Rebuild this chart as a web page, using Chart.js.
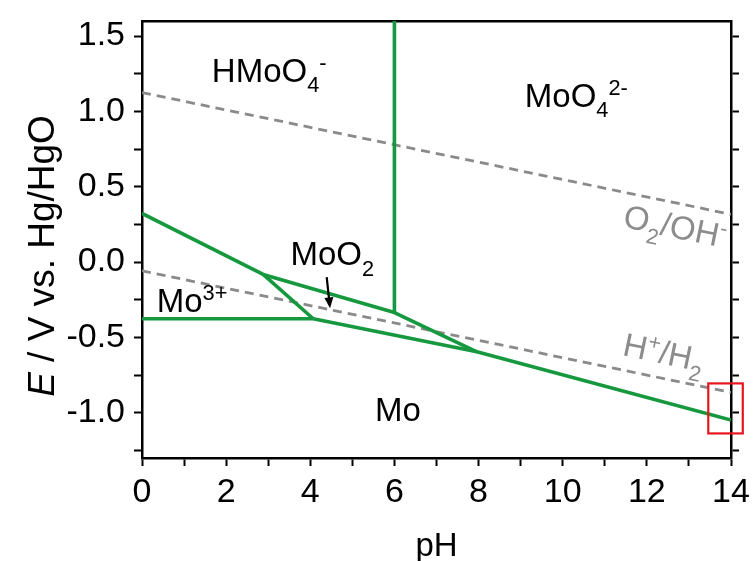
<!DOCTYPE html>
<html><head><meta charset="utf-8">
<script src="https://cdn.jsdelivr.net/npm/chart.js@4/dist/chart.umd.min.js"></script>
<style>html,body{margin:0;padding:0;background:#fff}canvas{display:block}</style>
</head><body>
<canvas id="c" width="755" height="561"></canvas>
<script>
// ---- axis ticks ----
const xTicks = [0,1,2,3,4,5,6,7,8,9,10,11,12,13,14];
const xTickValues = [0,2,4,6,8,10,12,14];
const xTickLabels = ['0','2','4','6','8','10','12','14'];
const yTicks = [-1.25,-1.0,-0.75,-0.5,-0.25,0,0.25,0.5,0.75,1.0,1.25,1.5];
const yTickValues = [-1.0,-0.5,0,0.5,1.0,1.5];
const yTickLabels = ['-1.0','-0.5','0.0','0.5','1.0','1.5'];

// ---- boundaries (pH, E) ----
const pH6Line_pH = [6.0, 6.0];
const pH6Line_E  = [-0.335, 1.6];
const upper_pH = [0, 2.88, 6.0, 7.96, 14];
const upper_E  = [0.323, -0.082, -0.335, -0.595, -1.048];
const mo3MoO2_pH = [2.88, 4.07];
const mo3MoO2_E  = [-0.082, -0.376];
const mo3Mo_pH = [0, 4.07];
const mo3Mo_E  = [-0.376, -0.376];
const moMoO2_pH = [4.07, 7.96];
const moMoO2_E  = [-0.376, -0.595];
const o2_pH = [0, 14];
const o2_E  = [1.125, 0.317];
const h2_pH = [0, 14];
const h2_E  = [-0.058, -0.865];

// ---- region labels ----
const labelNames = ['HMoO4-','MoO4 2-','MoO2','Mo3+','Mo','O2/OH-','H+/H2'];
const labelPH = [1.66, 9.10, 3.53, 0.35, 5.54, 11.41, 11.40];
const labelE  = [1.196, 1.03, -0.02, -0.33, -1.055, 0.234, -0.617];
const labelParts = [
  [{t:'HMoO'},{t:'4',s:'sub'},{t:'-',s:'sup'}],
  [{t:'MoO'},{t:'4',s:'sub'},{t:'2-',s:'sup'}],
  [{t:'MoO'},{t:'2',s:'sub'}],
  [{t:'Mo'},{t:'3+',s:'sup'}],
  [{t:'Mo'}],
  [{t:'O'},{t:'2',s:'sub'},{t:'/OH'},{t:'-',s:'sup'}],
  [{t:'H'},{t:'+',s:'sup'},{t:'/H'},{t:'2',s:'sub'}]
];
const arrow_pH = [4.39, 4.47];
const arrow_E  = [-0.10, -0.307];
const box_pH = [13.46, 14.28];
const box_E  = [-0.805, -1.137];

const FAM = '"Liberation Sans", Arial, Helvetica, sans-serif';
const GREEN = '#16983f';
const GRAY = '#8a8a8a';

function pts(xs, ys){ return xs.map((x,i)=>({x:x, y:ys[i]})); }
function green(xs, ys){ return {data:pts(xs,ys), showLine:true, borderColor:GREEN, borderWidth:3.6, pointRadius:0, fill:false, tension:0, borderJoinStyle:'round'}; }
function dashed(xs, ys){ return {data:pts(xs,ys), showLine:true, borderColor:GRAY, borderWidth:2.8, borderDash:[9,6], pointRadius:0, fill:false, tension:0}; }

function rich(ctx, x, y, parts, size, color, angle){
  ctx.save(); ctx.translate(x,y); ctx.rotate(angle||0);
  ctx.fillStyle = color; ctx.textBaseline='alphabetic'; ctx.textAlign='left';
  let cx = 0;
  for (const p of parts){
    let fs = size, dy = 0;
    if (p.s==='sub'){ fs = size*0.66; dy = size*0.32; }
    else if (p.s==='sup'){ fs = size*0.66; dy = -size*0.36; }
    ctx.font = (p.i?'italic ':'') + fs + 'px ' + FAM;
    ctx.fillText(p.t, cx, dy);
    cx += ctx.measureText(p.t).width;
  }
  ctx.restore();
}

const decor = {
  id:'decor',
  afterDatasetsDraw(chart){
    const ctx = chart.ctx, xs = chart.scales.x, ys = chart.scales.y;
    for (let i=0;i<labelNames.length;i++){
      const isGray = i>=5;
      const ang = isGray ? 0.205 : 0;
      rich(ctx, xs.getPixelForValue(labelPH[i]), ys.getPixelForValue(labelE[i]), labelParts[i], 33, isGray ? '#8c8c8c' : '#000', ang);
    }
    const ax1 = xs.getPixelForValue(arrow_pH[0]), ay1 = ys.getPixelForValue(arrow_E[0]);
    const ax2 = xs.getPixelForValue(arrow_pH[1]), ay2 = ys.getPixelForValue(arrow_E[1]);
    const a = Math.atan2(ay2-ay1, ax2-ax1);
    ctx.save();
    ctx.strokeStyle='#000'; ctx.fillStyle='#000'; ctx.lineWidth=2.2;
    ctx.beginPath(); ctx.moveTo(ax1,ay1); ctx.lineTo(ax2-7*Math.cos(a), ay2-7*Math.sin(a)); ctx.stroke();
    ctx.beginPath();
    ctx.moveTo(ax2,ay2);
    ctx.lineTo(ax2-11*Math.cos(a)+4.5*Math.sin(a), ay2-11*Math.sin(a)-4.5*Math.cos(a));
    ctx.lineTo(ax2-11*Math.cos(a)-4.5*Math.sin(a), ay2-11*Math.sin(a)+4.5*Math.cos(a));
    ctx.closePath(); ctx.fill();
    ctx.restore();
    const bx1 = xs.getPixelForValue(box_pH[0]), bx2 = xs.getPixelForValue(box_pH[1]);
    const by1 = ys.getPixelForValue(box_E[0]), by2 = ys.getPixelForValue(box_E[1]);
    ctx.save(); ctx.strokeStyle='#e5161e'; ctx.lineWidth=2.2;
    ctx.strokeRect(bx1, by1, bx2-bx1, by2-by1);
    ctx.restore();
  },
  afterDraw(chart){
    const ctx = chart.ctx;
    const parts = [{t:'E', i:true},{t:' / V vs. Hg/HgO'}];
    const size = 37;
    let w = 0;
    for (const p of parts){ ctx.font=(p.i?'italic ':'')+size+'px '+FAM; w += ctx.measureText(p.t).width; }
    ctx.save();
    ctx.translate(54, 256);
    ctx.rotate(-Math.PI/2);
    rich(ctx, -w/2, 0, parts, size, '#000', 0);
    ctx.restore();
  }
};

const tickFont = {family: FAM, size: 34};
const gridOpts = {drawOnChartArea:false, drawTicks:true, tickLength:8, tickWidth:2, color:'#000'};
const borderOpts = {display:true, color:'#000', width:2.5};
function noPad(s){ s.paddingTop = 0; s.paddingBottom = 0; s.paddingLeft = 0; s.paddingRight = 0; }

new Chart(document.getElementById('c'), {
  type:'scatter',
  data:{datasets:[
    green(pH6Line_pH, pH6Line_E),
    green(upper_pH, upper_E),
    green(mo3MoO2_pH, mo3MoO2_E),
    green(mo3Mo_pH, mo3Mo_E),
    green(moMoO2_pH, moMoO2_E),
    dashed(o2_pH, o2_E),
    dashed(h2_pH, h2_E)
  ]},
  options:{
    responsive:false, animation:false, events:[],
    layout:{padding:{top:21,left:0,right:0,bottom:0}},
    plugins:{legend:{display:false}, tooltip:{enabled:false}},
    scales:{
      x:{type:'linear', position:'bottom', min:0, max:14,
        afterBuildTicks:s=>{ s.ticks = xTicks.map(v=>({value:v})); },
        afterFit:s=>{ s.height = 103; noPad(s); },
        ticks:{autoSkip:false, maxRotation:0, padding:6, color:'#000', font:tickFont,
          callback:v=>{ const i = xTickValues.indexOf(v); return i>=0 ? xTickLabels[i] : ''; }},
        grid:gridOpts, border:borderOpts,
        title:{display:true, text:'pH', color:'#000', font:{family:FAM, size:33}, padding:{top:0,bottom:-6}}
      },
      x2:{type:'linear', position:'top', min:0, max:14,
        afterFit:s=>{ s.height = 0; noPad(s); },
        ticks:{display:false}, grid:{display:false, drawTicks:false}, border:borderOpts
      },
      y:{type:'linear', position:'left', min:-1.3, max:1.6,
        afterBuildTicks:s=>{ s.ticks = yTicks.map(v=>({value:v})); },
        afterFit:s=>{ s.width = 142; noPad(s); },
        ticks:{autoSkip:false, padding:9, color:'#000', font:tickFont,
          callback:v=>{ const i = yTickValues.findIndex(t=>Math.abs(t-v)<1e-9); return i>=0 ? yTickLabels[i] : ''; }},
        grid:gridOpts, border:borderOpts
      },
      y2:{type:'linear', position:'right', min:-1.3, max:1.6,
        afterBuildTicks:s=>{ s.ticks = yTicks.map(v=>({value:v})); },
        afterFit:s=>{ s.width = 24; noPad(s); },
        ticks:{display:false}, grid:gridOpts, border:borderOpts
      }
    }
  },
  plugins:[decor]
});
</script>
</body></html>
